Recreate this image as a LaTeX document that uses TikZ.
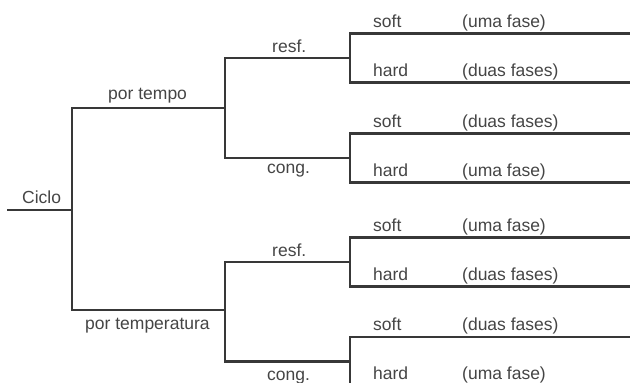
\documentclass[tikz,border=0pt]{standalone}
\usepackage{fontspec}
\setmainfont{Liberation Sans}
\definecolor{ink}{HTML}{383838}
\definecolor{txt}{HTML}{454545}
\begin{document}
\begin{tikzpicture}[x=1pt,y=-1pt,
  branch/.style={draw=ink,line width=2.2pt},
  lbl/.style={text=txt,font=\fontsize{17.5}{20}\selectfont,inner sep=0pt,anchor=base west}]
\useasboundingbox (0,0) rectangle (630,383);

% junctions of the tree
\coordinate (c0) at (7,210);
\coordinate (c1) at (72,210);
\coordinate (pt) at (225,108);
\coordinate (pT) at (225,310);
\coordinate (r1) at (350,58);
\coordinate (g1) at (350,158);
\coordinate (r2) at (350,262);
\coordinate (g2) at (350,361.5);
% leaf line ends
\coordinate (s1) at (630,33.5);  \coordinate (h1) at (630,82.5);
\coordinate (s2) at (630,133.5); \coordinate (h2) at (630,182.5);
\coordinate (s3) at (630,237.5); \coordinate (h3) at (630,286.5);
\coordinate (s4) at (630,337);   \coordinate (h4) at (630,386);

% branches
\draw[branch] (c0) -- (c1);
\draw[branch] (pt) -| (c1) |- (pT);
\draw[branch] (r1) -| (pt) |- (g1);
\draw[branch] (r2) -| (pT) |- (g2);
\draw[branch] (s1) -| (r1) |- (h1);
\draw[branch] (s2) -| (g1) |- (h2);
\draw[branch] (s3) -| (r2) |- (h3);
\draw[branch] (s4) -| (g2) |- (h4);

% labels
\node[lbl] (ciclo) at (22,203) {Ciclo};
\node[lbl] (tempo) at (108,99) {por tempo};
\node[lbl] (temp) at (85,329) {por temperatura};
\node[lbl] (resf1) at (272,52) {resf.};
\node[lbl] (cong1) at (267,173) {cong.};
\node[lbl] (resf2) at (272,256) {resf.};
\node[lbl] (cong2) at (267,380) {cong.};

\node[lbl] (ls1) at (373,27) {soft};  \node[lbl] (fs1) at (462,27) {(uma fase)};
\node[lbl] (lh1) at (373,76.5) {hard}; \node[lbl] (fh1) at (462,76.5) {(duas fases)};
\node[lbl] (ls2) at (373,127) {soft}; \node[lbl] (fs2) at (462,127) {(duas fases)};
\node[lbl] (lh2) at (373,176.5) {hard}; \node[lbl] (fh2) at (462,176.5) {(uma fase)};
\node[lbl] (ls3) at (373,231) {soft}; \node[lbl] (fs3) at (462,231) {(uma fase)};
\node[lbl] (lh3) at (373,280) {hard}; \node[lbl] (fh3) at (462,280) {(duas fases)};
\node[lbl] (ls4) at (373,330.5) {soft}; \node[lbl] (fs4) at (462,330.5) {(duas fases)};
\node[lbl] (lh4) at (373,379.5) {hard}; \node[lbl] (fh4) at (462,379.5) {(uma fase)};
\end{tikzpicture}
\end{document}
